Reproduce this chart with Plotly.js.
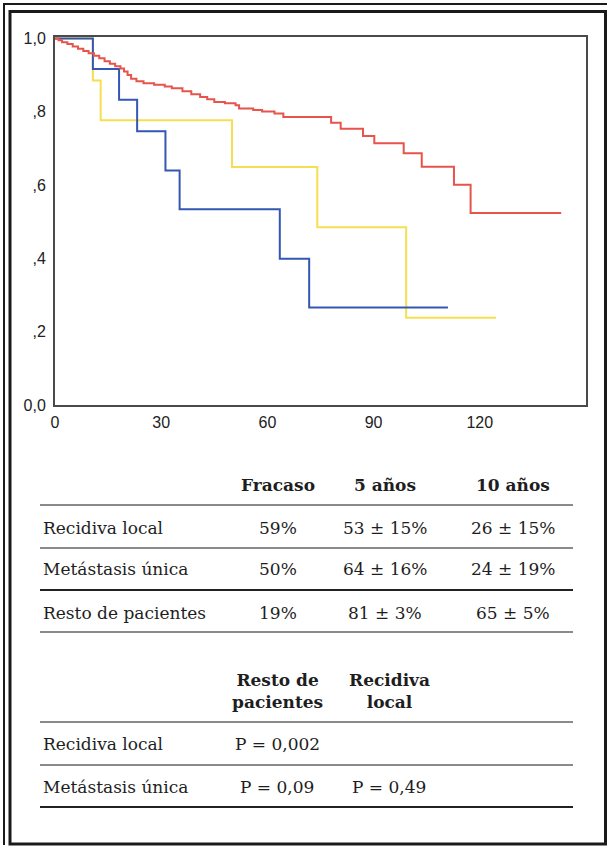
<!DOCTYPE html>
<html><head><meta charset="utf-8">
<script src="https://cdn.plot.ly/plotly-3.0.1.min.js"></script>
<style>html,body{margin:0;padding:0;background:#fff;} #chart{width:608px;height:846px;}</style>
</head><body><div id="chart"></div>
<script>
// ---- Survival curves (months, cumulative survival) ----
const redT = [0, 1, 2, 3.5, 5, 6.5, 8, 9.5, 11, 12.5, 14, 15.5, 17, 18.5, 19.5, 20.5, 21.5, 23, 25, 28, 31, 33, 36, 38.5, 41, 43, 45, 48, 51, 52, 56, 58.5, 62, 64.5, 78, 80.7, 87, 90.2, 98.5, 103.6, 112.7, 117.4, 143];
const redS = [1.0, 0.995, 0.99, 0.985, 0.978, 0.972, 0.966, 0.96, 0.953, 0.946, 0.938, 0.931, 0.924, 0.918, 0.91, 0.9, 0.89, 0.883, 0.878, 0.874, 0.869, 0.864, 0.856, 0.848, 0.84, 0.834, 0.827, 0.823, 0.818, 0.809, 0.805, 0.801, 0.795, 0.786, 0.77, 0.754, 0.734, 0.714, 0.687, 0.65, 0.601, 0.524, 0.524];
const blueT = [0, 10.7, 18.1, 23.2, 31.2, 35.2, 63.5, 71.8, 111];
const blueS = [1.0, 0.917, 0.833, 0.747, 0.64, 0.534, 0.399, 0.266, 0.266];
const yellowT = [0, 10.7, 12.9, 50.0, 74.1, 99.2, 124.6];
const yellowS = [1.0, 0.885, 0.777, 0.649, 0.485, 0.238, 0.238];

const xTickVals = [0, 30, 60, 90, 120];
const xTickText = ['0', '30', '60', '90', '120'];
const yTickVals = [0, 0.2, 0.4, 0.6, 0.8, 1.0];
const yTickText = ['0,0', ',2', ',4', ',6', ',8', '1,0'];

// ---- Tables ----
const tableCols = ['Fracaso', '5 años', '10 años'];
const tableRows = ['Recidiva local', 'Metástasis única', 'Resto de pacientes'];
const fracaso = ['59%', '50%', '19%'];
const cincoAnos = ['53 ± 15%', '64 ± 16%', '81 ± 3%'];
const diezAnos = ['26 ± 15%', '24 ± 19%', '65 ± 5%'];

const pCols = ['Resto de<br>pacientes', 'Recidiva<br>local'];
const pRows = ['Recidiva local', 'Metástasis única'];
const pResto = ['P = 0,002', 'P = 0,09'];
const pRecidiva = ['', 'P = 0,49'];

// ---- geometry helpers (pixel -> paper) ----
const L = 55, T = 37, W = 531, H = 368, FW = 608, FH = 846;
const xp = px => (px - L) / W;
const yp = py => (T + H - py) / H;

const serif = 'DejaVu Serif, serif';
const txtColor = '#1e1e1e';
const annotations = [];
const shapes = [];

function addText(text, px, py, opts) {
  annotations.push(Object.assign({
    text: text, x: xp(px), y: yp(py), xref: 'paper', yref: 'paper',
    xanchor: 'center', yanchor: 'middle', showarrow: false,
    font: {family: serif, size: 17, color: txtColor}
  }, opts || {}));
}
function addLine(py, color) {
  shapes.push({type: 'line', xref: 'paper', yref: 'paper',
    x0: xp(40), x1: xp(573), y0: yp(py), y1: yp(py),
    line: {color: color, width: 2}});
}

// table 1
const colX1 = [278, 385, 513];
const rowY1 = [528, 569, 613];
tableCols.forEach((c, i) => addText('<b>' + c + '</b>', colX1[i], 485));
addLine(505, '#8a8a8a');
addLine(548, '#8a8a8a');
addLine(590, '#222');
addLine(632, '#8a8a8a');
tableRows.forEach((r, i) => {
  addText(r, 41, rowY1[i], {xanchor: 'left'});
  addText(fracaso[i], colX1[0], rowY1[i]);
  addText(cincoAnos[i], colX1[1], rowY1[i]);
  addText(diezAnos[i], colX1[2], rowY1[i]);
});

// table 2
const colX2 = [277, 389];
const rowY2 = [744, 787];
pCols.forEach((c, i) => addText('<b>' + c.replace('<br>', '</b><br><b>') + '</b>', colX2[i], 691));
addLine(722, '#8a8a8a');
addLine(765, '#8a8a8a');
addLine(807, '#222');
pRows.forEach((r, i) => {
  addText(r, 41, rowY2[i], {xanchor: 'left'});
  if (pResto[i]) addText(pResto[i], colX2[0], rowY2[i]);
  if (pRecidiva[i]) addText(pRecidiva[i], colX2[1], rowY2[i]);
});

// page borders
shapes.push({type: 'rect', xref: 'paper', yref: 'paper', x0: xp(10), x1: xp(605.5), y0: yp(11.5), y1: yp(844),
  line: {color: '#1a1a1a', width: 3}});
shapes.push({type: 'line', xref: 'paper', yref: 'paper', x0: xp(3), x1: xp(607), y0: yp(4), y1: yp(4),
  line: {color: '#1a1a1a', width: 2}});
shapes.push({type: 'line', xref: 'paper', yref: 'paper', x0: xp(4), x1: xp(4), y0: yp(3), y1: yp(845),
  line: {color: '#1a1a1a', width: 2}});

const traces = [
  {x: yellowT, y: yellowS, mode: 'lines', line: {shape: 'hv', color: '#f6df4f', width: 2}, hoverinfo: 'skip'},
  {x: blueT, y: blueS, mode: 'lines', line: {shape: 'hv', color: '#3457b3', width: 2}, hoverinfo: 'skip'},
  {x: redT, y: redS, mode: 'lines', line: {shape: 'hv', color: '#e6544b', width: 2}, hoverinfo: 'skip'}
];

const tickFont = {family: 'Liberation Sans, Arial, sans-serif', size: 16, color: '#222'};
const layout = {
  width: FW, height: FH,
  margin: {l: L, r: FW - L - W, t: T, b: FH - T - H, pad: 0},
  paper_bgcolor: '#fff', plot_bgcolor: '#fff',
  showlegend: false,
  xaxis: {range: [0, 150], tickvals: xTickVals, ticktext: xTickText, showgrid: false, zeroline: false,
    showline: true, mirror: true, linecolor: '#4a4a4a', linewidth: 2, ticks: '', tickfont: tickFont,
    ticklabelstandoff: 2},
  yaxis: {range: [0, 1.004], tickvals: yTickVals, ticktext: yTickText, showgrid: false, zeroline: false,
    showline: true, mirror: true, linecolor: '#4a4a4a', linewidth: 2, ticks: '', tickfont: tickFont,
    ticklabelstandoff: 4},
  annotations: annotations,
  shapes: shapes
};

Plotly.newPlot('chart', traces, layout, {staticPlot: true, displayModeBar: false});
</script>
</body></html>
